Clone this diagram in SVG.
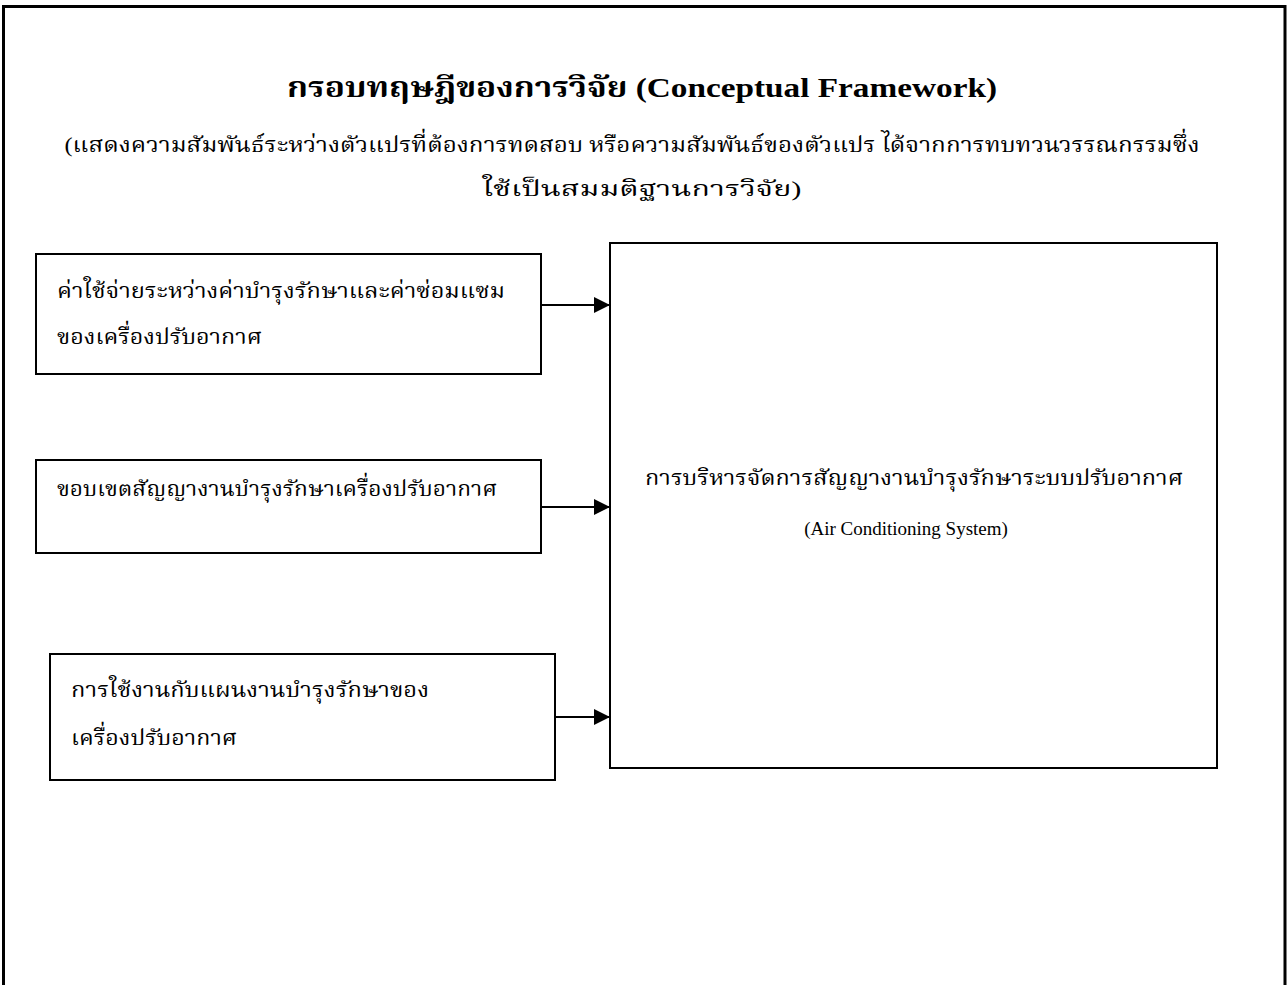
<svg xmlns="http://www.w3.org/2000/svg" width="1287" height="985" viewBox="0 0 1287 985">
<style>
.box{fill:#fff;stroke:#000;stroke-width:2}
.t{font-family:"Liberation Serif","Noto Serif Thai","Noto Sans Thai",serif;fill:#000}
.th{font-size:22px}
.en{font-size:19px}
.conn{stroke:#000;stroke-width:2;fill:none}
</style>
<defs>
<marker id="ah" markerWidth="8" markerHeight="8" refX="8" refY="4" orient="auto" markerUnits="strokeWidth">
<path d="M0,0 L8,4 L0,8 Z" fill="#000"/>
</marker>
</defs>
<rect width="1287" height="985" fill="#fff"/>
<path d="M3.5,985 V6.5 H1285 V985" fill="none" stroke="#000" stroke-width="3"/>
<g id="title">
<text class="t" x="642" y="97" text-anchor="middle" font-size="28" font-weight="bold" textLength="710" lengthAdjust="spacingAndGlyphs">กรอบทฤษฎีของการวิจัย (Conceptual Framework)</text>
<text class="t th" x="632" y="152" text-anchor="middle" textLength="1135" lengthAdjust="spacingAndGlyphs">(แสดงความสัมพันธ์ระหว่างตัวแปรที่ต้องการทดสอบ หรือความสัมพันธ์ของตัวแปร ได้จากการทบทวนวรรณกรรมซึ่ง</text>
<text class="t th" x="642" y="196" text-anchor="middle" textLength="319" lengthAdjust="spacingAndGlyphs">ใช้เป็นสมมติฐานการวิจัย)</text>
</g>
<g id="node-cost">
<rect class="box" x="36" y="254" width="505" height="120"/>
<text class="t th" x="57" y="298" textLength="448" lengthAdjust="spacingAndGlyphs">ค่าใช้จ่ายระหว่างค่าบำรุงรักษาและค่าซ่อมแซม</text>
<text class="t th" x="57" y="344" textLength="205" lengthAdjust="spacingAndGlyphs">ของเครื่องปรับอากาศ</text>
</g>
<g id="node-scope">
<rect class="box" x="36" y="460" width="505" height="93"/>
<text class="t th" x="57" y="496" textLength="440" lengthAdjust="spacingAndGlyphs">ขอบเขตสัญญางานบำรุงรักษาเครื่องปรับอากาศ</text>
</g>
<g id="node-plan">
<rect class="box" x="50" y="654" width="505" height="126"/>
<text class="t th" x="71" y="697" textLength="358" lengthAdjust="spacingAndGlyphs">การใช้งานกับแผนงานบำรุงรักษาของ</text>
<text class="t th" x="71" y="745" textLength="166" lengthAdjust="spacingAndGlyphs">เครื่องปรับอากาศ</text>
</g>
<g id="node-main">
<rect class="box" x="610" y="243" width="607" height="525"/>
<text class="t th" x="914" y="485" text-anchor="middle" textLength="538" lengthAdjust="spacingAndGlyphs">การบริหารจัดการสัญญางานบำรุงรักษาระบบปรับอากาศ</text>
<text class="t en" x="906" y="535" text-anchor="middle">(Air Conditioning System)</text>
</g>
<g id="connectors">
<line class="conn" x1="541" y1="305" x2="610" y2="305" marker-end="url(#ah)"/>
<line class="conn" x1="541" y1="507" x2="610" y2="507" marker-end="url(#ah)"/>
<line class="conn" x1="555" y1="717" x2="610" y2="717" marker-end="url(#ah)"/>
</g>
</svg>
